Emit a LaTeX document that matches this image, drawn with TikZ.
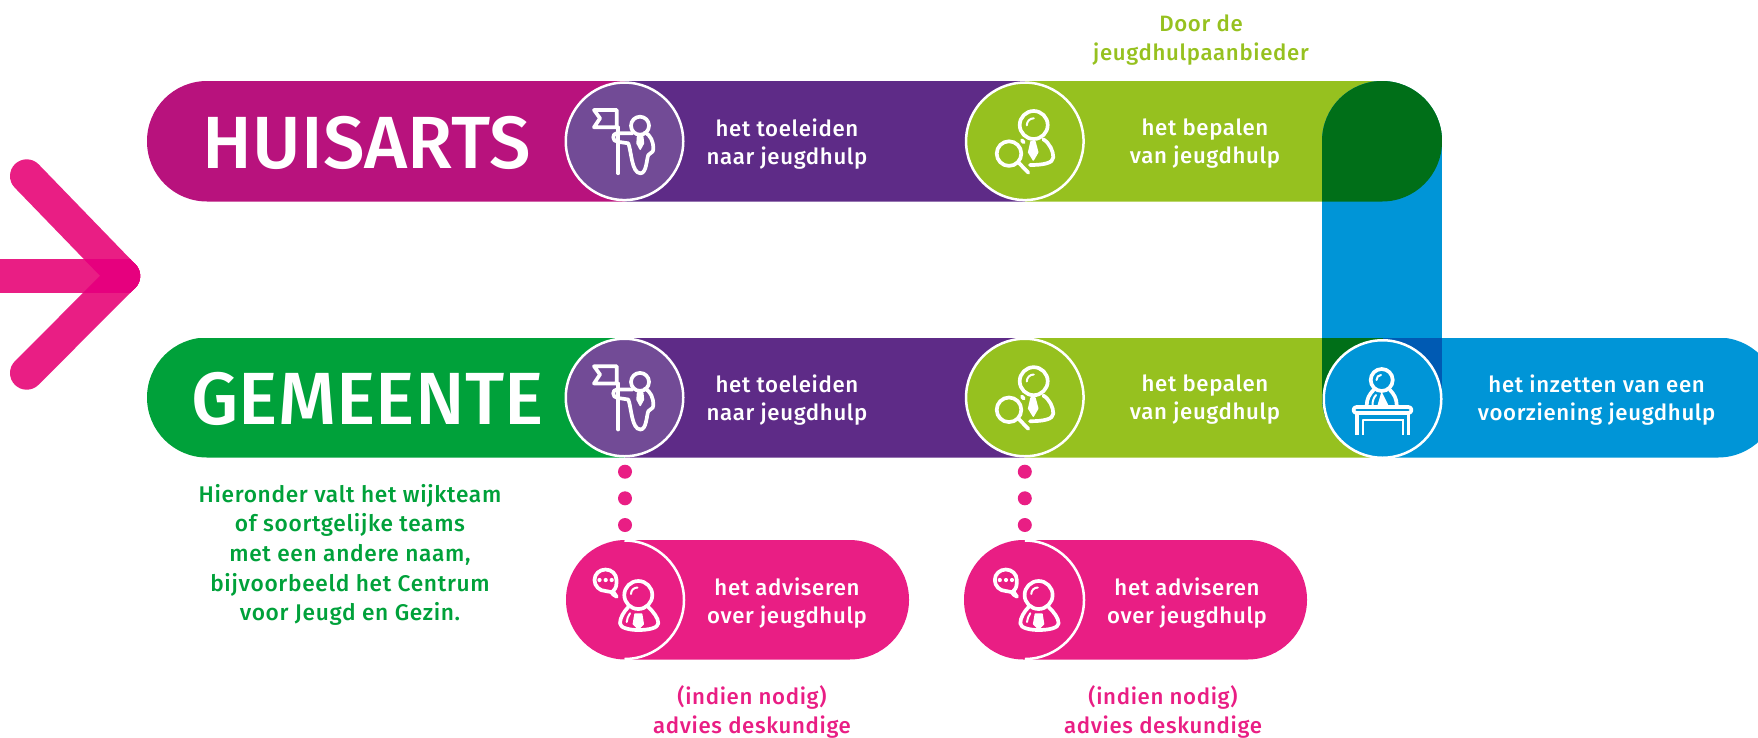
\documentclass[tikz,border=0pt]{standalone}
\usepackage{fontspec}
\setmainfont{Fira Sans Medium}
\newfontfamily\titlefont[LetterSpace=0.3]{Fira Sans Medium}
\newfontfamily\labelfont[LetterSpace=3]{Fira Sans Medium}
\definecolor{cMag}{HTML}{B8127D}
\definecolor{cPur}{HTML}{5E2B87}
\definecolor{cPurL}{HTML}{724B96}
\definecolor{cLime}{HTML}{96C11F}
\definecolor{cDGr}{HTML}{006F18}
\definecolor{cBlue}{HTML}{0095D7}
\definecolor{cDBl}{HTML}{005AB3}
\definecolor{cGrn}{HTML}{00A13A}
\definecolor{cPink}{HTML}{E91E84}
\definecolor{cDPink}{HTML}{E6007E}
\tikzset{
  iconline/.style={draw=white,line width=3.7pt,line cap=round,line join=round,fill=none},
  iconthin/.style={draw=white,line width=2pt,line cap=round,line join=round,fill=none},
  iconfill/.style={fill=white,draw=white,line width=1.4pt,line join=round},
  badge/.style={circle,draw=white,line width=2.5pt,minimum size=117.5pt,inner sep=0pt,outer sep=0pt},
  txt/.style={align=center,text=white,font=\labelfont\fontsize{22.2}{28}\selectfont},
  sidetxt/.style={align=center,font=\labelfont\fontsize{22.2}{29}\selectfont},
  greentxt/.style={align=center,font=\labelfont\fontsize{22.7}{29.7}\selectfont},
  titletxt/.style={text=white,font=\titlefont\fontsize{74}{80}\selectfont},
  dotm/.style={circle,fill=cPink,minimum size=14pt,inner sep=0pt,outer sep=0pt},
  pics/flagicon/.style={code={
    \draw[iconline] (-7.8,-14) -- (-30.5,-14) -- (-24.5,-23) -- (-30.5,-31.3) -- (-7.8,-31.3) -- (-7.8,-14);
    \draw[iconline] (-6.2,-14) -- (-6.2,32);
    \draw[iconline] (15.5,-15.6) circle[radius=9];
    \draw[iconline] (8,-8) -- (-7.8,-8) .. controls (-12.5,-8) and (-12.5,0) .. (-7.2,.4) -- (3.8,2)
       .. controls (7,10) and (7,32) .. (16,32) .. controls (22,32) and (22,18) .. (23.8,13.7)
       .. controls (25,11) and (28.8,12) .. (28.8,8) .. controls (29,0) and (26,-6) .. (20.5,-9);
    \fill[iconfill] (13,-4.6) -- (18.3,-4.6) -- (19,2) -- (15.7,8) -- (12.5,2) -- cycle;
  }},
  pics/lensicon/.style={code={
    \draw[iconline] (8.9,-16.3) circle[radius=14];
    \draw[iconthin] (2,-16) .. controls (2,-20) and (5,-23) .. (9,-23);
    \draw[iconline] (-15.8,12.3) circle[radius=12.3];
    \draw[iconline] (-6,21.5) -- (3.5,31.4);
    \draw[iconline] (-3,-1) -- (-1,1);
    \draw[iconline] (18.5,-2) .. controls (25,2) and (28.5,10) .. (28.5,16)
       .. controls (28.5,22) and (18,23.7) .. (5.2,23.7);
    \fill[iconfill] (6.2,.4) -- (10.2,.4) -- (13,11) -- (8.5,18.7) -- (3.8,11) -- cycle;
  }},
  pics/deskicon/.style={code={
    \draw[iconline] (-0.8,-19) circle[radius=11];
    \draw[iconthin] (-6,-19) .. controls (-6,-22) and (-4,-24) .. (-1.5,-24);
    \draw[iconline] (-15.8,6) .. controls (-15.8,0) and (-13,-5) .. (-9,-9);
    \draw[iconline] (14.2,6) .. controls (14.2,0) and (11.5,-5) .. (7.5,-9);
    \draw[iconthin] (-10,6) .. controls (-10,2) and (-9,-1) .. (-6.5,-4);
    \fill[iconfill] (-4.2,6) -- (-0.8,-5.7) -- (5,6) -- cycle;
    \draw[iconline,rounded corners=3pt] (-29,8) rectangle (29,14);
    \draw[iconline,line cap=butt] (-25.8,14) -- (-25.8,36);
    \draw[iconline,line cap=butt] (26,14) -- (26,36);
    \draw[iconthin,line cap=butt] (-19.2,36) -- (-19.2,21) -- (21,21);
    \draw[iconthin,line cap=butt] (20.8,21) -- (20.8,36);
  }},
  pics/talkicon/.style={code={
    \draw[iconline] (-11.5,-9) .. controls (-8,-12) and (-8,-15) .. (-8,-20)
       .. controls (-8,-26) and (-13,-30.5) .. (-19,-30.5) .. controls (-25,-30.5) and (-30,-26) .. (-30,-20)
       .. controls (-30,-14) and (-25,-9) .. (-19,-9) -- (-13.5,-8) .. controls (-12,-6) and (-10,-4) .. (-7.8,-3.3) .. controls (-9,-5) and (-10.5,-7) .. (-11.5,-9);
    \fill[white] (-25,-20) circle[radius=2.1] (-18.8,-20) circle[radius=2.1] (-12.8,-20) circle[radius=2.1];
    \draw[iconline] (13.8,-5) circle[radius=14];
    \draw[iconthin] (6.5,-6) .. controls (6.5,-10) and (9.5,-12.5) .. (13,-12.5);
    \draw[iconline] (3.8,7) .. controls (-1,12) and (-4.5,18) .. (-4.5,23.3)
      .. controls (-4.5,28) and (5,30) .. (13.8,30) .. controls (24,30) and (33.8,28) .. (33.8,23.3)
      .. controls (33.8,18) and (29,12) .. (23.8,7);
    \draw[iconthin] (5.5,13.3) .. controls (3.5,16) and (2.5,19) .. (2.2,22);
    \fill[iconfill] (10.5,14) -- (17.2,14) -- (18.8,24) -- (13.8,29) -- (8.8,24) -- cycle;
  }},
}
\begin{document}
\begin{tikzpicture}[x=1pt,y=-1pt]
\useasboundingbox (0,0) rectangle (1758,737);
\clip (0,0) rectangle (1758,737);
% arrow
\coordinate (tip) at (123.5,276);
\coordinate (armU) at (26.7,176);
\coordinate (armL) at (26.7,373);
\coordinate (tail) at (0,276);
\draw[cPink,line width=33.4pt,line cap=round] (armU) -- (tip);
\draw[cPink,line width=33.4pt,line cap=round] (armL) -- (tip);
\draw[cPink,line width=33.4pt,line cap=round] (tail) -- (tip);
\begin{scope}
  \clip (0,259.3) rectangle (145,292.7);
  \draw[cDPink,line width=33.4pt,line cap=round] (armU) -- (tip);
  \draw[cDPink,line width=33.4pt,line cap=round] (armL) -- (tip);
\end{scope}
% top bar
\begin{scope}
  \clip[rounded corners=60pt] (147,81) rectangle (1442,201.5);
  \fill[cMag] (147,81) rectangle (624.5,201.5);
  \fill[cPur] (624.5,81) rectangle (1024.8,201.5);
  \fill[cLime] (1024.8,81) rectangle (1442,201.5);
\end{scope}
% bottom bar
\begin{scope}
  \clip[rounded corners=60pt] (147,337.5) rectangle (1778,457.5);
  \fill[cGrn] (147,337.5) rectangle (624.5,457.5);
  \fill[cPur] (624.5,337.5) rectangle (1024.8,457.5);
  \fill[cLime] (1024.8,337.5) rectangle (1382.5,457.5);
  \fill[cBlue] (1382.5,337.5) rectangle (1778,457.5);
\end{scope}
% vertical pill and overlaps
\begin{scope}
  \clip[rounded corners=60pt] (1322,81) rectangle (1442,457.5);
  \fill[cBlue] (1322,81) rectangle (1442,457.5);
  \fill[cDGr] (1322,337.5) rectangle (1382.5,457.5);
  \fill[cDBl] (1382.5,337.5) rectangle (1442,457.5);
  \clip[rounded corners=60pt] (147,81) rectangle (1442,201.5);
  \fill[cDGr] (1322,81) rectangle (1442,201.5);
\end{scope}
% pink pills
\fill[cPink,rounded corners=59.5pt] (566,540) rectangle (909,659.5);
\fill[cPink,rounded corners=59.5pt] (964,540) rectangle (1307,659.5);
% badges
\node[badge,fill=cPurL] (b1) at (624.5,141.3) {};
\node[badge,fill=cLime] (b2) at (1024.8,141.3) {};
\node[badge,fill=cPurL] (b3) at (624.5,397.5) {};
\node[badge,fill=cLime] (b4) at (1024.8,397.5) {};
\node[badge,fill=cBlue] (b5) at (1382.5,399) {};
\draw[white,line width=2.5pt] (624.5,540.5) .. controls (657,540.5) and (684,567) .. (684,600) .. controls (684,633) and (657,659) .. (624.5,659);
\draw[white,line width=2.5pt] (1024.8,540.5) .. controls (1057,540.5) and (1084,567) .. (1084,600) .. controls (1084,633) and (1057,659) .. (1024.8,659);
% icons
\pic at (b1) {flagicon};
\pic at (b3) {flagicon};
\pic at (b2) {lensicon};
\pic at (b4) {lensicon};
\pic at (b5) {deskicon};
\pic at (624.5,600) {talkicon};
\pic at (1024.8,600) {talkicon};
% dots
\node[dotm] (d1) at (625,471.7) {};
\node[dotm] (d2) at (625,498.3) {};
\node[dotm] (d3) at (625,525) {};
\node[dotm] (d4) at (1024.8,471.7) {};
\node[dotm] (d5) at (1024.8,498.3) {};
\node[dotm] (d6) at (1024.8,525) {};
% titles
\node[titletxt] (t1) at (367,143) {HUISARTS};
\node[titletxt] (t2) at (367.5,399) {GEMEENTE};
% labels
\node[txt] (l1) at (787,144) {het toeleiden\\naar jeugdhulp};
\node[txt] (l2) at (1205,144) {het bepalen\\van jeugdhulp};
\node[txt] (l3) at (787,400) {het toeleiden\\naar jeugdhulp};
\node[txt] (l4) at (1205,400) {het bepalen\\van jeugdhulp};
\node[txt] (l5) at (1596.6,400) {het inzetten van een\\voorziening jeugdhulp};
\node[txt] (l6) at (787,603) {het adviseren\\over jeugdhulp};
\node[txt] (l7) at (1187,603) {het adviseren\\over jeugdhulp};
\node[sidetxt,text=cLime] (s1) at (1201,40) {Door de\\jeugdhulpaanbieder};
\node[sidetxt,text=cPink] (s2) at (752,712) {(indien nodig)\\advies deskundige};
\node[sidetxt,text=cPink] (s3) at (1163,712) {(indien nodig)\\advies deskundige};
\node[greentxt,text=cGrn] (s4) at (350,555) {Hieronder valt het wijkteam\\of soortgelijke teams\\met een andere naam,\\bijvoorbeeld het Centrum\\voor Jeugd en Gezin.};
\end{tikzpicture}
\end{document}
